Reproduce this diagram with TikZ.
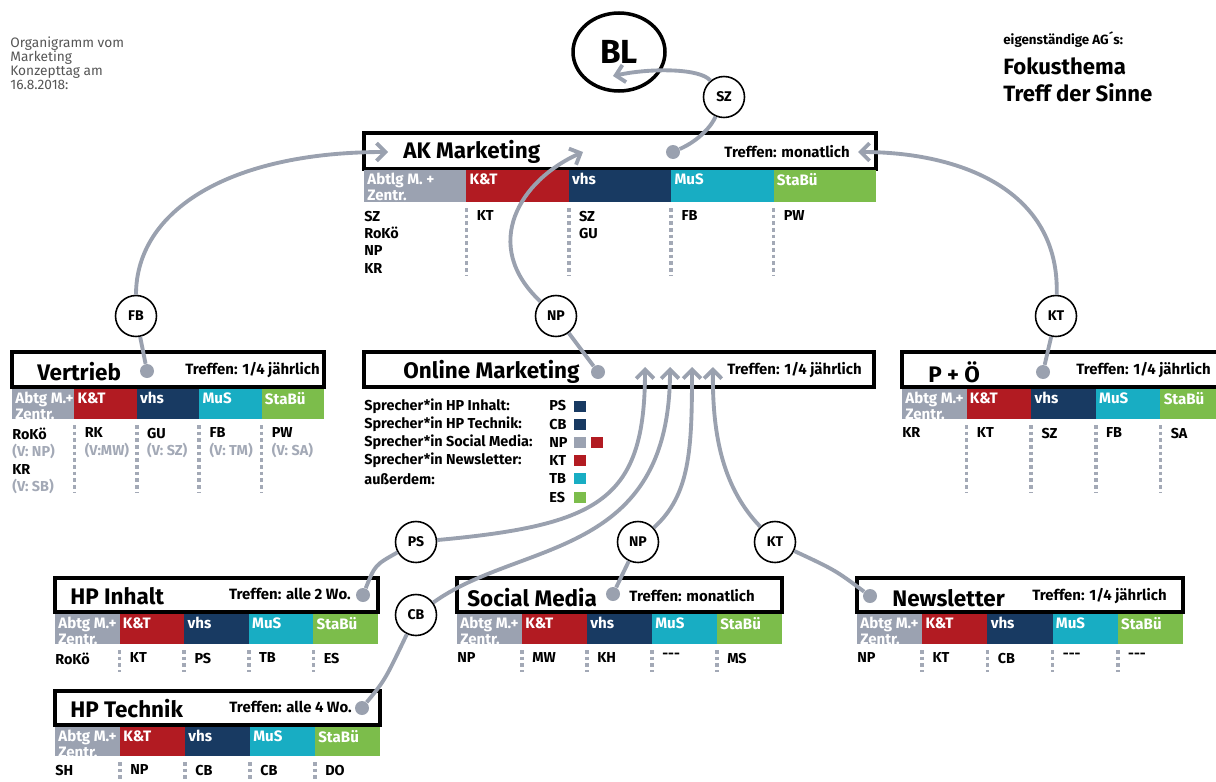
\documentclass[tikz,border=0pt]{standalone}
\usepackage{fontspec}
\setmainfont{Fira Sans}
\usepackage{tikz}
\usetikzlibrary{shapes.geometric, arrows.meta, positioning}
\usepackage{xcolor}

\definecolor{lgrey}{HTML}{9AA1AF}
\definecolor{abt}{HTML}{9BA2B1}
\definecolor{kut}{HTML}{B21B22}
\definecolor{vhs}{HTML}{183A62}
\definecolor{mus}{HTML}{18ADC3}
\definecolor{stab}{HTML}{7CBD4B}
\definecolor{vgrey}{HTML}{A3A9B6}
\definecolor{notegrey}{HTML}{555555}

\begin{document}
\begin{tikzpicture}[x=0.02cm, y=-0.02cm,
    box/.style={rectangle, draw, line width=2pt, anchor=north west, inner sep=0pt, outer sep=0pt, minimum height=0.7cm},
    title/.style={anchor=west, inner sep=0pt, font=\bfseries\fontsize{12.8}{14}\selectfont},
    meet/.style={anchor=east, inner sep=0pt, font=\bfseries\fontsize{8.5}{9}\selectfont},
    cell/.style={rectangle, anchor=north west, inner sep=0pt, outer sep=0pt, minimum height=0.6cm},
    celltext/.style={anchor=north west, inner sep=1.7pt, align=left, text=white, font=\bfseries\fontsize{8.6}{7.4}\selectfont},
    names/.style={anchor=north west, inner sep=0pt, align=left, font=\bfseries\fontsize{8.2}{9.9}\selectfont},
    sep/.style={draw=vgrey, line width=2pt, dash pattern=on 2pt off 1.8pt},
    dot/.style={circle, fill=lgrey, minimum size=0.28cm, inner sep=0pt},
    who/.style={circle, draw, fill=white, line width=0.9pt, minimum size=0.82cm, inner sep=0pt, font=\bfseries\fontsize{8}{9}\selectfont},
    legend/.style={anchor=west, inner sep=0pt, font=\bfseries\fontsize{8.2}{9}\selectfont},
    swatch/.style={rectangle, minimum width=0.24cm, minimum height=0.22cm, inner sep=0pt},
    link/.style={draw=lgrey, line width=2.2pt},
    arrow/.style={link, -{Straight Barb[length=5pt, width=10pt]}}
]
    \useasboundingbox (0,0) rectangle (1216,781);

    % Notes
    \node[anchor=north west, inner sep=0pt, align=left, text=notegrey, font=\fontsize{7.8}{8.1}\selectfont] (info) at (10,36) {Organigramm vom\\Marketing\\Konzepttag am\\16.8.2018:};
    \node[anchor=west, inner sep=0pt, font=\bfseries\fontsize{7.6}{9}\selectfont] (ags) at (1003,40) {eigenständige AG´s:};
    \node[anchor=west, inner sep=0pt, font=\bfseries\fontsize{12.6}{14}\selectfont] (fokus) at (1003,66) {Fokusthema};
    \node[anchor=west, inner sep=0pt, font=\bfseries\fontsize{12.6}{14}\selectfont] (sinne) at (1003,93) {Treff der Sinne};

    % BL
    \node[ellipse, draw, line width=2pt, minimum width=1.84cm, minimum height=1.56cm, inner sep=0pt, font=\bfseries\fontsize{19}{20}\selectfont] (bl) at (619,52) {BL};

    % Boxes
    \node[box, minimum width=10.24cm, minimum height=0.72cm] (ak) at (364,133) {};
    \node[box, minimum width=6.24cm] (vt) at (12,352) {};
    \node[box, minimum width=10.2cm] (om) at (364,352) {};
    \node[box, minimum width=6.6cm] (po) at (902,352) {};
    \node[box, minimum width=6.46cm, minimum height=0.68cm] (hi) at (55,578) {};
    \node[box, minimum width=6.5cm, minimum height=0.68cm] (sm) at (457,578) {};
    \node[box, minimum width=6.52cm, minimum height=0.68cm] (nl) at (857,578) {};
    \node[box, minimum width=6.5cm, minimum height=0.68cm] (ht) at (55,691) {};

    \node[title] (aktitle) at (403,152) {AK Marketing};
    \node[meet] (akmeet) at (850,152) {Treffen: monatlich};
    \node[title] (vttitle) at (37,372) {Vertrieb};
    \node[meet] (vtmeet) at (320,370) {Treffen: 1/4 jährlich};
    \node[title] (omtitle) at (403,372) {Online Marketing};
    \node[meet] (ommeet) at (862,370) {Treffen: 1/4 jährlich};
    \node[title] (potitle) at (928,372) {P + Ö};
    \node[meet] (pomeet) at (1211,370) {Treffen: 1/4 jährlich};
    \node[title] (hititle) at (70,596) {HP Inhalt};
    \node[meet] (himeet) at (351,594) {Treffen: alle 2 Wo.};
    \node[title] (smtitle) at (467,598) {Social Media};
    \node[meet] (smmeet) at (755,596) {Treffen: monatlich};
    \node[title] (nltitle) at (892,598) {Newsletter};
    \node[meet] (nlmeet) at (1167,596) {Treffen: 1/4 jährlich};
    \node[title] (httitle) at (70,709) {HP Technik};
    \node[meet] (htmeet) at (352,707) {Treffen: alle 4 Wo.};

    % Colour bars
    \foreach \blk/\bx/\by/\bw/\bh/\ab/\len in {ak/364/170/102.4/32/{Abtlg M. +}/67, vt/12/389/62.4/30/{Abtg M.+}/67, po/902/389/64.6/30/{Abtg M.+}/67, hi/55/614/64.6/30/{Abtg M.+}/22, sm/457/614/65/30/{Abtg M.+}/22, nl/857/614/65.2/30/{Abtg M.+}/22, ht/55/727/65/29/{Abtg M.+}/24}
      \foreach \col/\txt [count=\i] in {abt/{\ab\\Zentr.}, kut/K\&T, vhs/vhs, mus/MuS, stab/StaBü} {
        \node[cell, fill=\col, minimum width=\bw*0.02cm, minimum height=\bh*0.02cm] (\blk c\i) at ({\bx+(\i-1)*\bw},\by) {};
        \node[celltext] (\blk t\i) at (\blk c\i.north west) {\txt};
        \ifnum\i>1
          \draw[sep] ([yshift=-0.12cm]\blk c\i.south west) -- ++(0,\len);
        \fi
      }

    % Members
    \foreach \blk/\names in {ak/{{SZ\\RoKö\\NP\\KR}, KT, {SZ\\GU}, FB, PW},
        vt/{{RoKö\\\textcolor{vgrey}{(V: NP)}\\KR\\\textcolor{vgrey}{(V: SB)}}, {RK\\\textcolor{vgrey}{(V:MW)}}, {GU\\\textcolor{vgrey}{(V: SZ)}}, {FB\\\textcolor{vgrey}{(V: TM)}}, {PW\\\textcolor{vgrey}{(V: SA)}}},
        po/{KR, KT, SZ, FB, SA}, hi/{RoKö, KT, PS, TB, ES}, sm/{NP, MW, KH, {-{}-{}-}, MS},
        nl/{NP, KT, CB, {-{}-{}-}, {-{}-{}-}}, ht/{SH, NP, CB, CB, DO}}
      \foreach \txt [count=\i] in \names
        \node[names] (\blk n\i) at ([xshift={(\i>1)*0.2cm}, yshift=-0.17cm]\blk c\i.south west) {\txt};

    % Speakers
    \foreach \lab/\code/\col [count=\i] in {Sprecher*in HP Inhalt:/PS/vhs, Sprecher*in HP Technik:/CB/vhs, Sprecher*in Social Media:/NP/abt, Sprecher*in Newsletter:/KT/kut, außerdem:/TB/mus, /ES/stab} {
        \node[legend] (lab\i) at (364,{406+(\i-1)*18.2}) {\lab};
        \node[legend] (code\i) at (549,{406+(\i-1)*18.2}) {\code};
        \node[swatch, fill=\col] (sw\i) at (580,{406+(\i-1)*18.2}) {};
    }
    \node[swatch, fill=kut] (sw3b) at (597,442.4) {};

    % Dots and persons
    \node[dot] (akdot) at (673,152) {};
    \node[dot] (vtdot) at (147,371) {};
    \node[dot] (omdot) at (598,372) {};
    \node[dot] (podot) at (1043,372) {};
    \node[dot] (hidot) at (363,595) {};
    \node[dot] (htdot) at (362,708) {};
    \node[dot] (smdot) at (613,594) {};
    \node[dot] (nldot) at (870,596) {};

    \node[who] (sz) at (724,97) {SZ};
    \node[who] (fb) at (136,316) {FB};
    \node[who] (np1) at (556,316) {NP};
    \node[who] (kt1) at (1056,316) {KT};
    \node[who] (ps) at (416,542) {PS};
    \node[who] (cb) at (416,615) {CB};
    \node[who] (np2) at (638,542) {NP};
    \node[who] (kt2) at (775,542) {KT};

    \coordinate (blin) at (613,76);
    \coordinate (akl) at (388,152);
    \coordinate (akm) at (583,152);
    \coordinate (akr) at (858,152);
    \coordinate (om1) at (645,367);
    \coordinate (om2) at (670,367);
    \coordinate (om3) at (692,367);
    \coordinate (om4) at (713,367);

    % Connections
    \draw[link] (akdot) .. controls (700,140) and (712,125) .. (sz);
    \draw[arrow] (sz) .. controls (700,68) and (650,68) .. (blin);
    \draw[link] (vtdot) -- (fb);
    \draw[arrow] (fb) .. controls (136,210) and (230,152) .. (akl);
    \draw[link] (omdot) -- (np1);
    \draw[arrow] (np1) .. controls (480,245) and (520,180) .. (akm);
    \draw[link] (podot) -- (kt1);
    \draw[arrow] (kt1) .. controls (1060,190) and (960,152) .. (akr);

    \draw[link] (hidot) .. controls (375,565) .. (ps);
    \draw[arrow] (ps) .. controls (600,525) and (645,500) .. (om1);
    \draw[link] (htdot) .. controls (385,680) .. (cb);
    \draw[arrow] (cb) .. controls (520,540) and (670,560) .. (om2);
    \draw[link] (smdot) -- (np2);
    \draw[arrow] (np2) .. controls (690,495) and (692,450) .. (om3);
    \draw[link] (nldot) .. controls (835,570) .. (kt2);
    \draw[arrow] (kt2) .. controls (725,490) and (712,440) .. (om4);
\end{tikzpicture}
\end{document}
